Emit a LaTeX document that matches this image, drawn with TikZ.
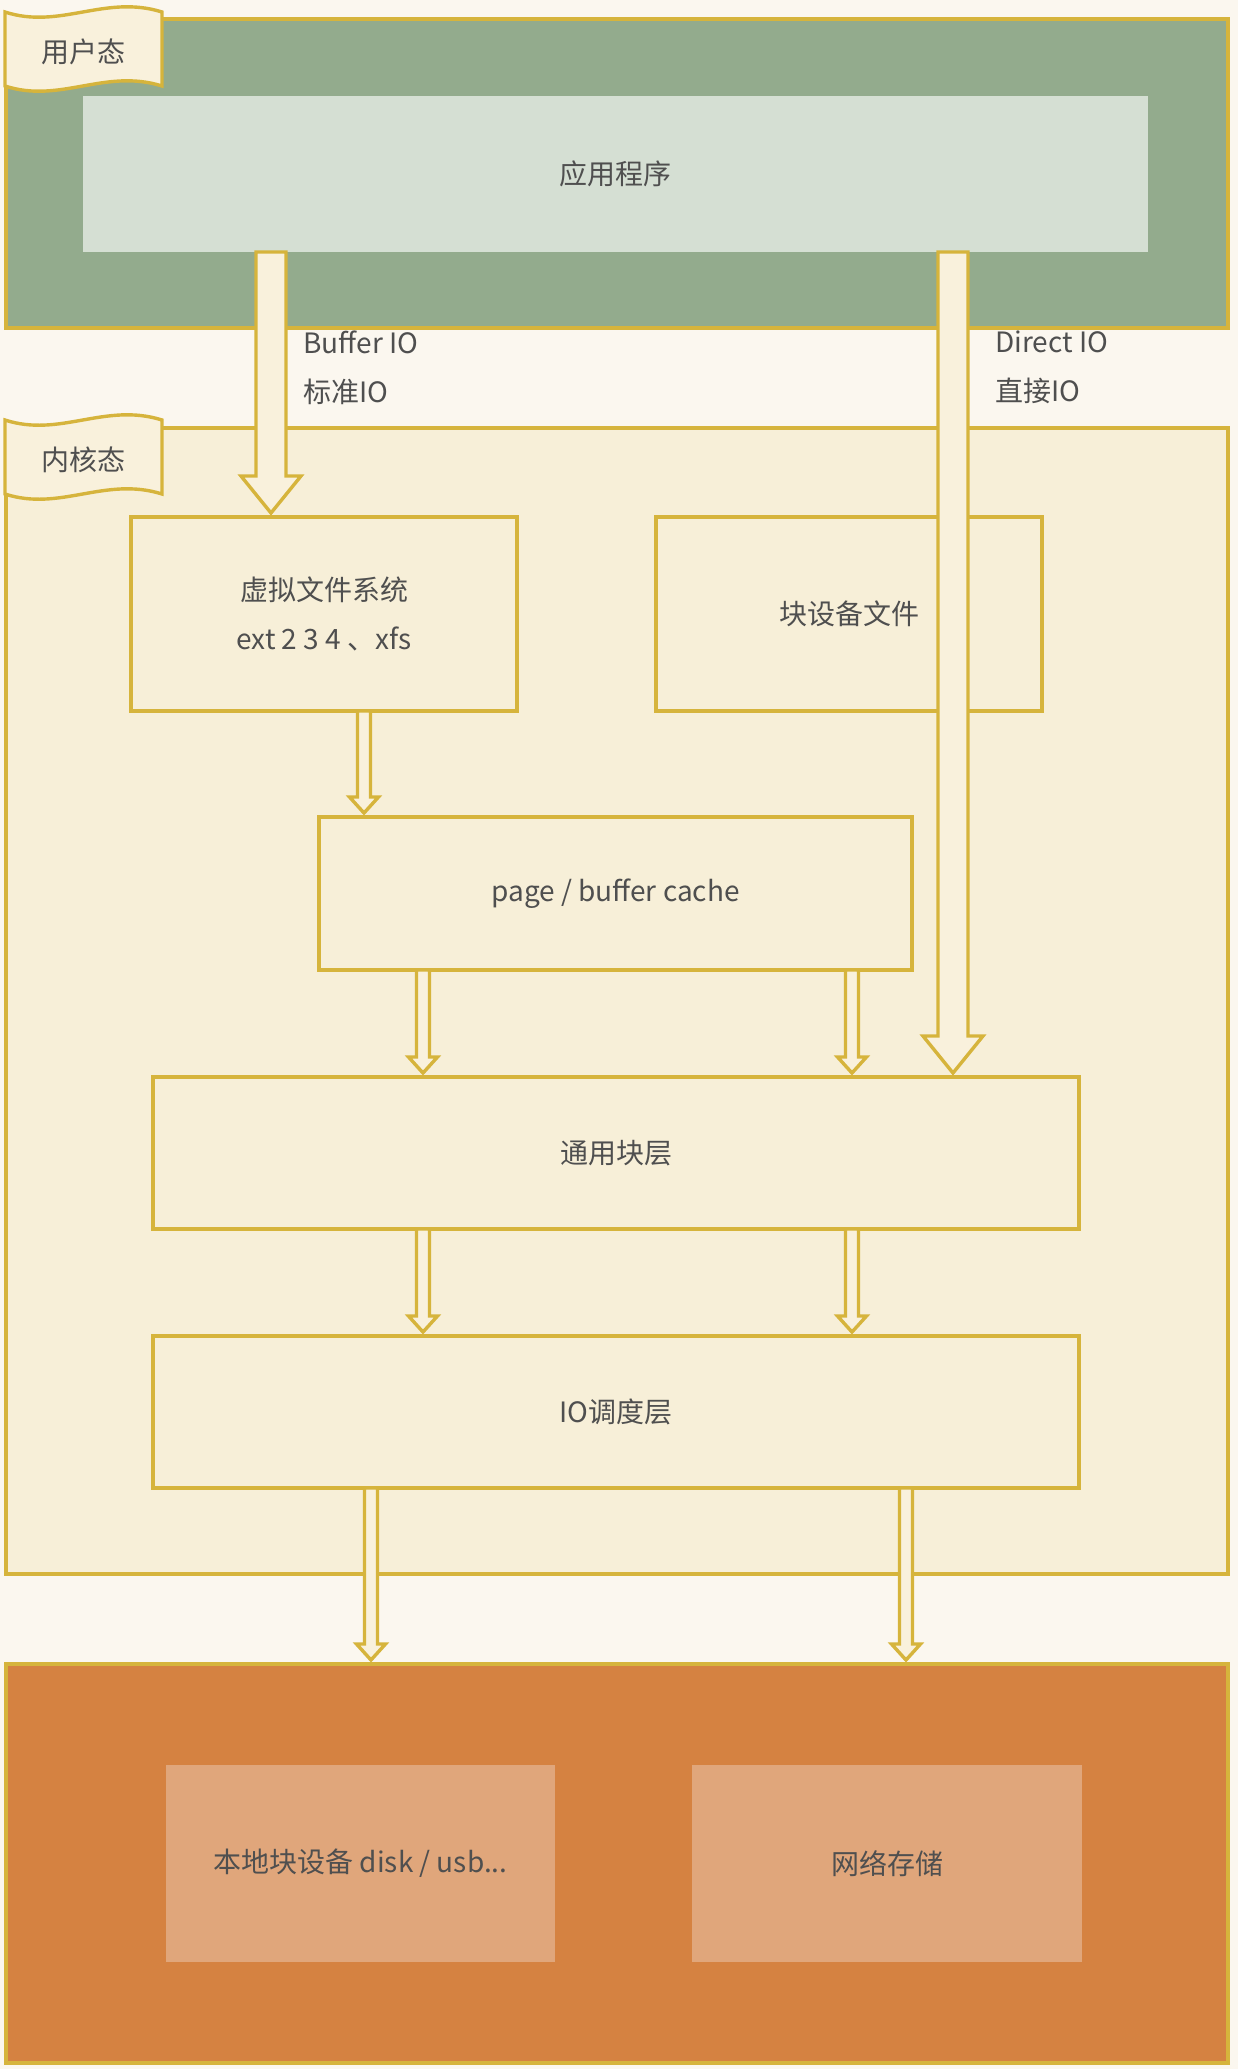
\documentclass[tikz,border=0pt]{standalone}
\usepackage{fontspec}
\setmainfont{Noto Sans CJK SC}
\usepackage{xcolor}
\usepackage{tikz}
\usetikzlibrary{calc}

\definecolor{paper}{HTML}{FBF7EF}
\definecolor{gold}{HTML}{D6B43C}
\definecolor{userfill}{HTML}{93AB8D}
\definecolor{appfill}{HTML}{D5DFD3}
\definecolor{kernfill}{HTML}{F7EFD8}
\definecolor{flowfill}{HTML}{F9F1DC}
\definecolor{devfill}{HTML}{D58241}
\definecolor{diskfill}{HTML}{E0A67B}
\definecolor{txt}{HTML}{4F4F4F}

\tikzset{
  layer/.style={rectangle, draw=gold, line width=1.7pt, inner sep=0pt, outer sep=0pt, text=txt},
  box/.style={layer, fill=kernfill, align=center},
  plain/.style={rectangle, inner sep=0pt, outer sep=0pt, text=txt, align=center},
  flag/.style={draw=gold, fill=flowfill, line width=1.7pt},
  flow/.style={draw=gold, fill=flowfill, line width=1.7pt, line join=miter},
  tag/.style={text=txt, align=left, inner sep=0pt, anchor=west}
}

% x, from node, to node, shaft half width, head half width, head length
\newcommand{\fatarrow}[6]{%
  \draw[flow] let \p1=(#2.south), \p2=(#3.north), \p3=(#1,0) in
    (\x3-#4,\y1) -- (\x3-#4,\y2+2pt+#6) -- (\x3-#5,\y2+2pt+#6) -- (\x3,\y2+2pt)
    -- (\x3+#5,\y2+2pt+#6) -- (\x3+#4,\y2+2pt+#6) -- (\x3+#4,\y1) -- cycle;}
\newcommand{\bigflow}[3]{\fatarrow{#1}{#2}{#3}{7.5pt}{15pt}{18.5pt}}
\newcommand{\smallflow}[3]{\fatarrow{#1}{#2}{#3}{3.25pt}{7.25pt}{8pt}}

% name, y offset, text
\newcommand{\tapeflag}[3]{%
  \draw[flag] (5,#2+12) .. controls (60,#2+30) and (105,#2-6) .. (162,#2+12)
    -- (162,#2+86) .. controls (105,#2+68) and (60,#2+104) .. (5,#2+86) -- cycle;
  \node[plain] (#1) at (83,#2+52) {#3};}

\begin{document}
\begin{tikzpicture}[x=0.5pt, y=-0.5pt, font={\fontsize{14pt}{24.5pt}\selectfont}]
\fill[paper] (0,0) rectangle (1238,2069);
\useasboundingbox (0,0) rectangle (1238,2069);

% user space
\node[layer, fill=userfill, minimum width=611pt, minimum height=154.5pt] (user) at (617,173.5) {};
\node[plain, fill=appfill, minimum width=532.5pt, minimum height=78pt] (app) at (615.5,174) {应用程序};
\tapeflag{userflag}{0}{用户态}

% kernel space
\node[layer, fill=kernfill, minimum width=611pt, minimum height=573pt] (kernel) at (617,1001) {};
\tapeflag{kernflag}{408}{内核态}
\node[box, minimum width=193pt, minimum height=97pt] (vfs) at (324,614) {虚拟文件系统\\ext 2 3 4 、xfs};
\node[box, minimum width=193pt, minimum height=97pt] (blkfile) at (849,614) {块设备文件};
\node[box, minimum width=296.5pt, minimum height=76.5pt] (cache) at (615.5,893.5) {page / buffer cache};
\node[box, minimum width=463pt, minimum height=76pt] (blocklayer) at (616,1153) {通用块层};
\node[box, minimum width=463pt, minimum height=76pt] (sched) at (616,1412) {IO调度层};

% devices
\node[layer, fill=devfill, minimum width=611pt, minimum height=199.5pt] (device) at (617,1863.5) {};
\node[plain, fill=diskfill, minimum width=194.5pt, minimum height=98.5pt] (local) at (360.5,1863.5) {本地块设备 disk / usb...};
\node[plain, fill=diskfill, minimum width=195pt, minimum height=98.5pt] (netstore) at (887,1863.5) {网络存储};

% io paths
\node[tag] (buflabel) at (303,367.5) {Buffer IO\\标准IO};
\node[tag] (directlabel) at (995,367.5) {Direct IO\\直接IO};
\bigflow{271}{app}{vfs}
\bigflow{953}{app}{blocklayer}
\smallflow{364}{vfs}{cache}
\smallflow{423}{cache}{blocklayer}
\smallflow{852}{cache}{blocklayer}
\smallflow{423}{blocklayer}{sched}
\smallflow{852}{blocklayer}{sched}
\smallflow{371}{sched}{device}
\smallflow{906}{sched}{device}
\end{tikzpicture}
\end{document}
